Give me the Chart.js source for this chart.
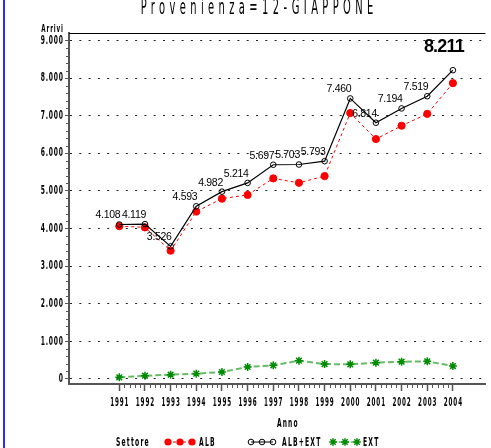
<!DOCTYPE html>
<html>
<head>
<meta charset="utf-8">
<script src="https://cdn.jsdelivr.net/npm/chart.js@4.4.1/dist/chart.umd.min.js"></script>
<style>
  html, body { margin: 0; padding: 0; background: #fff; }
  canvas { display: block; }
</style>
</head>
<body>
<canvas id="c" width="491" height="448" style="width:491px;height:448px"></canvas>
<script>
// ---- data ----
const years = [1991, 1992, 1993, 1994, 1995, 1996, 1997, 1998, 1999, 2000, 2001, 2002, 2003, 2004];
const albExt = [4108, 4119, 3526, 4593, 4982, 5214, 5697, 5703, 5793, 7460, 6814, 7194, 7519, 8211];
const alb = [4064, 4031, 3411, 4451, 4796, 4895, 5334, 5216, 5395, 7071, 6380, 6734, 7050, 7866];
const ext = [44, 88, 115, 142, 186, 319, 363, 487, 398, 389, 434, 460, 469, 345];
const yTickValues = [0, 1000, 2000, 3000, 4000, 5000, 6000, 7000, 8000, 9000];
const yTickLabels = ['0', '1.000', '2.000', '3.000', '4.000', '5.000', '6.000', '7.000', '8.000', '9.000'];
const xTickLabels = years.map(String);
const titleText = 'Provenienza=12-GIAPPONE';
const seriesNames = ['ALB', 'ALB+EXT', 'EXT'];

const fmt = v => v >= 1000 ? Math.floor(v / 1000) + '.' + String(v % 1000).padStart(3, '0') : String(v);
const pts = arr => arr.map((v, i) => ({ x: years[i], y: v }));

const NARROW = '"DejaVu Sans Condensed", "DejaVu Sans", sans-serif';
function narrowText(ctx, text, x, y, size, sx, align, spacing, weight, baseline) {
  ctx.save();
  ctx.font = (weight || 'normal') + ' ' + size + 'px ' + NARROW;
  const sp = spacing || 0;
  ctx.letterSpacing = (sp / sx) + 'px';
  ctx.textBaseline = baseline || 'middle';
  ctx.textAlign = 'left';
  const w = ctx.measureText(text).width * sx - sp;
  const left = align === 'center' ? x - w / 2 : align === 'right' ? x - w : x;
  ctx.translate(left, y);
  ctx.scale(sx, 1);
  ctx.fillStyle = '#000';
  ctx.fillText(text, 0, 0);
  ctx.restore();
}

function drawStar(ctx, x, y, r, color) {
  ctx.save();
  ctx.strokeStyle = color; ctx.lineWidth = 1.5; ctx.setLineDash([]);
  ctx.beginPath();
  for (let k = 0; k < 4; k++) {
    const a = k * Math.PI / 4;
    ctx.moveTo(x - r * Math.cos(a), y - r * Math.sin(a));
    ctx.lineTo(x + r * Math.cos(a), y + r * Math.sin(a));
  }
  ctx.stroke();
  ctx.restore();
}

const decor = {
  id: 'decor',
  afterDraw(chart) {
    const ctx = chart.ctx;
    const xs = chart.scales.x, ys = chart.scales.y;
    const ca = chart.chartArea;

    // top frame
    ctx.save();
    ctx.strokeStyle = '#000'; ctx.lineWidth = 1;
    ctx.beginPath(); ctx.moveTo(ca.left, ca.top + 0.5); ctx.lineTo(ca.right, ca.top + 0.5); ctx.stroke();

    // minor ticks
    ctx.strokeStyle = '#555'; ctx.lineWidth = 1;
    ctx.beginPath();
    for (let v = 200; v < 9000; v += 200) {
      if (v % 1000 === 0) continue;
      const py = Math.round(ys.getPixelForValue(v)) + 0.5;
      ctx.moveTo(ca.left - 3, py); ctx.lineTo(ca.left, py);
    }
    for (let i = 0; i < years.length - 1; i++) {
      for (let k = 1; k < 5; k++) {
        const px = Math.round(xs.getPixelForValue(years[i] + k / 5)) + 0.5;
        ctx.moveTo(px, ca.bottom); ctx.lineTo(px, ca.bottom + 4);
      }
    }
    ctx.stroke();
    ctx.restore();

    // tick labels
    ys.ticks.forEach(t => {
      const i = yTickValues.indexOf(t.value);
      if (i < 0) return;
      narrowText(ctx, yTickLabels[i], ca.left - 6, ys.getPixelForValue(t.value), 12, 0.56, 'right', 0.8, 'bold');
    });
    xs.ticks.forEach(t => {
      const i = years.indexOf(t.value);
      if (i < 0) return;
      narrowText(ctx, xTickLabels[i], xs.getPixelForValue(t.value), ca.bottom + 19, 12, 0.52, 'center', 0.9, 'bold');
    });

    // axis titles
    narrowText(ctx, 'Arrivi', ca.left - 6, ca.top - 4, 11, 0.56, 'right', 0.9, 'bold');
    narrowText(ctx, 'Anno', (ca.left + ca.right) / 2 + 10, ca.bottom + 40, 12, 0.55, 'center', 1.2, 'bold');

    // data labels on ALB+EXT
    ctx.save();
    ctx.fillStyle = '#000';
    ctx.textBaseline = 'middle';
    albExt.forEach((v, i) => {
      const px = xs.getPixelForValue(years[i]);
      const py = ys.getPixelForValue(v);
      if (i === albExt.length - 1) {
        ctx.font = 'bold 18px "Liberation Sans", Arial, sans-serif';
        ctx.letterSpacing = '-0.8px';
        ctx.textAlign = 'center';
        ctx.fillText(fmt(v), px - 9, py - 23);
        ctx.letterSpacing = '0px';
      } else {
        ctx.font = '10.5px "Liberation Sans", Arial, sans-serif';
        ctx.letterSpacing = '-0.3px';
        ctx.textAlign = 'right';
        ctx.fillText(fmt(v), px + 1, py - 9);
      }
    });
    ctx.restore();

    // legend
    const ly = 442;
    narrowText(ctx, 'Settore', 116, ly + 1, 12, 0.56, 'left', 1.2, 'bold');
    ctx.save();
    // ALB
    ctx.strokeStyle = '#ff0000'; ctx.lineWidth = 1; ctx.setLineDash([3, 2]);
    ctx.beginPath(); ctx.moveTo(168, ly); ctx.lineTo(192, ly); ctx.stroke();
    ctx.setLineDash([]);
    ctx.fillStyle = '#ff0000';
    [168, 180, 192].forEach(x => { ctx.beginPath(); ctx.arc(x, ly, 3.6, 0, Math.PI * 2); ctx.fill(); });
    // ALB+EXT
    ctx.strokeStyle = '#000'; ctx.lineWidth = 1;
    ctx.beginPath(); ctx.moveTo(251, ly); ctx.lineTo(273, ly); ctx.stroke();
    [251, 262, 273].forEach(x => { ctx.beginPath(); ctx.arc(x, ly, 2.8, 0, Math.PI * 2); ctx.stroke(); });
    // EXT
    ctx.strokeStyle = '#5cb85c'; ctx.lineWidth = 1.5; ctx.setLineDash([4, 2]);
    ctx.beginPath(); ctx.moveTo(333, ly); ctx.lineTo(357, ly); ctx.stroke();
    ctx.restore();
    [333, 345, 357].forEach(x => drawStar(ctx, x, ly, 3.8, '#008a00'));
    narrowText(ctx, seriesNames[0], 199, ly + 1, 12, 0.56, 'left', 1.2, 'bold');
    narrowText(ctx, seriesNames[1], 282, ly + 1, 12, 0.56, 'left', 1.2, 'bold');
    narrowText(ctx, seriesNames[2], 363, ly + 1, 12, 0.56, 'left', 1.2, 'bold');

    // title
    narrowText(ctx, titleText, 257, 14, 22, 0.5, 'center', 4.4, '300', 'alphabetic');

    // blue left line
    ctx.save();
    ctx.fillStyle = '#2a2aff';
    ctx.fillRect(3, 0, 2, chart.height);
    ctx.restore();
  }
};

new Chart(document.getElementById('c'), {
  type: 'line',
  data: {
    datasets: [
      {
        label: seriesNames[0], data: pts(alb), order: 1,
        borderColor: '#ff0000', borderWidth: 1, borderDash: [3, 3],
        pointStyle: 'circle', pointRadius: 3.6, pointBackgroundColor: '#ff0000', pointBorderColor: '#ff0000', pointBorderWidth: 1
      },
      {
        label: seriesNames[1], data: pts(albExt), order: 0,
        borderColor: '#000', borderWidth: 1.2,
        pointStyle: 'circle', pointRadius: 2.8, pointBackgroundColor: 'rgba(0,0,0,0)', pointBorderColor: '#000', pointBorderWidth: 1
      },
      {
        label: seriesNames[2], data: pts(ext), order: 2,
        borderColor: '#66bb66', borderWidth: 2, borderDash: [6, 3],
        pointStyle: 'star', pointRadius: 4, pointBackgroundColor: '#008a00', pointBorderColor: '#008a00', pointBorderWidth: 1.5
      }
    ]
  },
  options: {
    responsive: false,
    animation: false,
    devicePixelRatio: 1,
    layout: { padding: { top: 33, left: 0, right: 0, bottom: 0 } },
    plugins: { legend: { display: false }, title: { display: false }, tooltip: { enabled: false } },
    elements: { line: { tension: 0 } },
    scales: {
      x: {
        type: 'linear', min: 1989.04, max: 2005.27,
        afterBuildTicks: s => { s.ticks = years.map(v => ({ value: v })); },
        afterFit: s => { s.height = 64; },
        ticks: { display: false },
        grid: { drawOnChartArea: false, drawTicks: true, tickLength: 7, tickColor: '#555', tickWidth: 1.5 },
        border: { display: true, color: '#555', width: 2 }
      },
      y: {
        type: 'linear', min: -133, max: 9200,
        afterBuildTicks: s => { s.ticks = yTickValues.map(v => ({ value: v })); },
        afterFit: s => { s.width = 69; },
        ticks: { display: false },
        grid: { drawOnChartArea: true, color: '#222', lineWidth: 1, drawTicks: true, tickLength: 4, tickColor: '#555', tickWidth: 1, tickBorderDash: [] },
        border: { display: true, color: '#555', width: 2, dash: [2, 7.3] }
      }
    }
  },
  plugins: [decor]
});
</script>
</body>
</html>
